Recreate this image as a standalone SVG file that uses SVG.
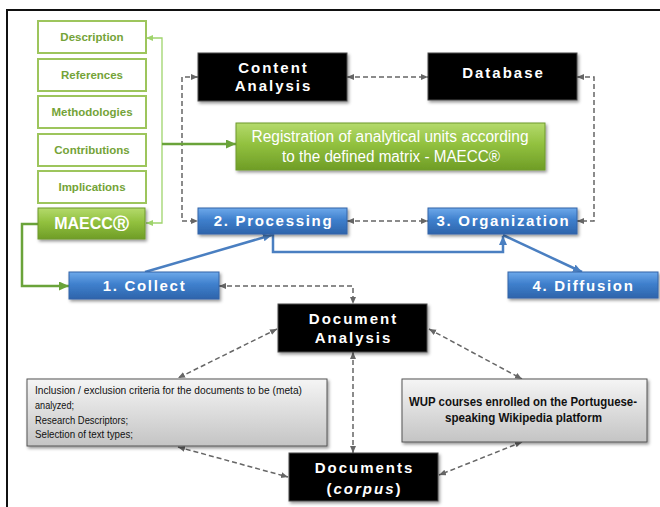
<svg xmlns="http://www.w3.org/2000/svg" width="660" height="507" viewBox="0 0 660 507">
<style>
  .frame{stroke:#111;stroke-width:2;fill:none}
  .outline{fill:#fff;stroke:#9dc55c;stroke-width:2}
  .olabel{font-family:"Liberation Sans",Arial,sans-serif;font-weight:bold;font-size:11.5px;fill:#74a338;text-anchor:middle}
  .blk{fill:#000;stroke:#4a4a4a;stroke-width:1}
  .blkt{font-family:"Liberation Sans",Arial,sans-serif;font-weight:bold;font-size:15px;fill:#fff;text-anchor:middle;letter-spacing:2px}
  .blue{fill:url(#blueG);stroke:#3465a8;stroke-width:1}
  .bluet{font-family:"Liberation Sans",Arial,sans-serif;font-weight:bold;font-size:15px;fill:#fff;text-anchor:middle;letter-spacing:1.7px}
  .green{fill:url(#greenG);stroke:#6e9a2c;stroke-width:1}
  .greent{font-family:"Liberation Sans",Arial,sans-serif;font-size:16px;fill:#fff;text-anchor:middle}
  .gray{fill:url(#grayG);stroke:#555;stroke-width:1}
  .grayt{font-family:"Liberation Sans",Arial,sans-serif;font-size:11.5px;fill:#111}
  .grayb{font-family:"Liberation Sans",Arial,sans-serif;font-weight:bold;font-size:12.5px;fill:#111;text-anchor:middle}
  .dash{fill:none;stroke:#666;stroke-width:1.5;stroke-dasharray:5 3;marker-start:url(#ad);marker-end:url(#ad)}
  .bl{fill:none;stroke:#4a7fc1;stroke-width:2.5;marker-end:url(#ab)}
  .gthin{fill:none;stroke:#9fd46c;stroke-width:1.3;marker-start:url(#agl);marker-end:url(#agl)}
  .gthick{fill:none;stroke:#6aa33a;stroke-width:2.5;marker-end:url(#ag)}
</style>
<defs>
  <linearGradient id="blueG" x1="0" y1="0" x2="0" y2="1">
    <stop offset="0" stop-color="#6ea9ea"/>
    <stop offset="0.45" stop-color="#3f80cd"/>
    <stop offset="1" stop-color="#2d64ab"/>
  </linearGradient>
  <linearGradient id="greenG" x1="0" y1="0" x2="0" y2="1">
    <stop offset="0" stop-color="#b4da6c"/>
    <stop offset="0.45" stop-color="#92c13f"/>
    <stop offset="1" stop-color="#6f9d26"/>
  </linearGradient>
  <linearGradient id="grayG" x1="0" y1="0" x2="0" y2="1">
    <stop offset="0" stop-color="#f5f5f5"/>
    <stop offset="1" stop-color="#c4c4c4"/>
  </linearGradient>
  <filter id="sh" x="-10%" y="-20%" width="120%" height="150%">
    <feDropShadow dx="1.5" dy="2" stdDeviation="1.5" flood-color="#000" flood-opacity="0.4"/>
  </filter>
  <marker id="ad" markerUnits="userSpaceOnUse" markerWidth="8" markerHeight="7" refX="7" refY="3" orient="auto-start-reverse">
    <path d="M0,0 L7,3 L0,6 z" fill="#666"/>
  </marker>
  <marker id="ab" markerUnits="userSpaceOnUse" markerWidth="10" markerHeight="9" refX="9" refY="4" orient="auto">
    <path d="M0,0 L9,4 L0,8 z" fill="#4a7fc1"/>
  </marker>
  <marker id="ag" markerUnits="userSpaceOnUse" markerWidth="11" markerHeight="10" refX="10" refY="4.5" orient="auto">
    <path d="M0,0 L10,4.5 L0,9 z" fill="#6aa33a"/>
  </marker>
  <marker id="agl" markerUnits="userSpaceOnUse" markerWidth="8" markerHeight="7" refX="7" refY="3" orient="auto-start-reverse">
    <path d="M0,0 L7,3 L0,6 z" fill="#9fd46c"/>
  </marker>
</defs>

<rect width="660" height="507" fill="#fff"/>
<path class="frame" d="M6,10 H660 M7,10 V507"/>

<g id="connectors">
  <path class="dash" d="M198,77 H182 V221 H198"/>
  <path class="dash" d="M347,77 H428"/>
  <path class="dash" d="M347,221 H428"/>
  <path class="dash" d="M577,77 H594 V221 H577"/>
  <path class="dash" d="M219,286 H353 V304"/>
  <path class="dash" d="M277,329 L178,378"/>
  <path class="dash" d="M353,352 V453"/>
  <path class="dash" d="M429,329 L522,379"/>
  <path class="dash" d="M522,442 L439,475"/>
  <path class="dash" d="M178,447 L288,477"/>
  <path class="bl" d="M145,272 L272,235"/>
  <path class="bl" d="M273,234 V252 H503 V236"/>
  <path class="bl" d="M503,235 L582,272"/>
  <path class="gthin" d="M146,38 H162 V223 H146"/>
  <path class="gthick" d="M162,144 H236"/>
  <path class="gthick" d="M38,224 H22 V286 H69"/>
</g>

<g id="description"><rect class="outline" x="38" y="21" width="108" height="32"/><text class="olabel" x="92" y="41">Description</text></g>
<g id="references"><rect class="outline" x="38" y="59" width="108" height="32"/><text class="olabel" x="92" y="79">References</text></g>
<g id="methodologies"><rect class="outline" x="38" y="96" width="108" height="32"/><text class="olabel" x="92" y="116">Methodologies</text></g>
<g id="contributions"><rect class="outline" x="38" y="134" width="108" height="32"/><text class="olabel" x="92" y="154">Contributions</text></g>
<g id="implications"><rect class="outline" x="38" y="171" width="108" height="32"/><text class="olabel" x="92" y="191">Implications</text></g>
<g id="maecc"><rect class="green" x="38" y="208" width="107" height="31" filter="url(#sh)"/><text class="greent" x="91.5" y="229" font-weight="bold" font-family="'Liberation Sans','DejaVu Sans',sans-serif">MAECCⓇ</text></g>

<g id="content-analysis"><rect class="blk" x="198" y="53" width="149" height="48" filter="url(#sh)"/><text class="blkt" x="273.5" y="73">Content</text><text class="blkt" x="273.5" y="91">Analysis</text></g>
<g id="database"><rect class="blk" x="428" y="53" width="149" height="47" filter="url(#sh)"/><text class="blkt" x="503.5" y="78">Database</text></g>

<g id="registration"><rect class="green" x="236" y="123" width="309" height="47" filter="url(#sh)"/>
  <text class="greent" x="390" y="142" textLength="277" lengthAdjust="spacingAndGlyphs">Registration of analytical units according</text>
  <text class="greent" x="391" y="162" textLength="218" lengthAdjust="spacingAndGlyphs">to the defined matrix - MAECC®</text></g>

<g id="processing"><rect class="blue" x="198" y="208" width="149" height="26" filter="url(#sh)"/><text class="bluet" x="273.5" y="226">2. Processing</text></g>
<g id="organization"><rect class="blue" x="428" y="208" width="149" height="26" filter="url(#sh)"/><text class="bluet" x="503.5" y="226">3. Organization</text></g>
<g id="collect"><rect class="blue" x="69" y="272" width="150" height="27" filter="url(#sh)"/><text class="bluet" x="144.5" y="291">1. Collect</text></g>
<g id="diffusion"><rect class="blue" x="508" y="272" width="150" height="26" filter="url(#sh)"/><text class="bluet" x="583.5" y="291">4. Diffusion</text></g>

<g id="document-analysis"><rect class="blk" x="278" y="304" width="149" height="48" filter="url(#sh)"/><text class="blkt" x="353.5" y="324">Document</text><text class="blkt" x="353.5" y="343">Analysis</text></g>

<g id="criteria"><rect class="gray" x="27" y="379" width="300" height="67" filter="url(#sh)"/>
  <text class="grayt" x="35" y="394" textLength="267" lengthAdjust="spacingAndGlyphs">Inclusion / exclusion criteria for the documents to be (meta)</text>
  <text class="grayt" x="35" y="409" textLength="39" lengthAdjust="spacingAndGlyphs">analyzed;</text>
  <text class="grayt" x="35" y="424" textLength="93" lengthAdjust="spacingAndGlyphs">Research Descriptors;</text>
  <text class="grayt" x="35" y="438" textLength="98" lengthAdjust="spacingAndGlyphs">Selection of text types;</text></g>

<g id="wup"><rect class="gray" x="402" y="379" width="245" height="63" filter="url(#sh)"/>
  <text class="grayb" x="523" y="406" textLength="228" lengthAdjust="spacingAndGlyphs">WUP courses enrolled on the Portuguese-</text>
  <text class="grayb" x="523.5" y="422" textLength="157" lengthAdjust="spacingAndGlyphs">speaking Wikipedia platform</text></g>

<g id="documents"><rect class="blk" x="289" y="453" width="149" height="48" filter="url(#sh)"/><text class="blkt" x="364.5" y="473">Documents</text><text class="blkt" x="364.5" y="494">(<tspan font-style="italic">corpus</tspan>)</text></g>
</svg>
